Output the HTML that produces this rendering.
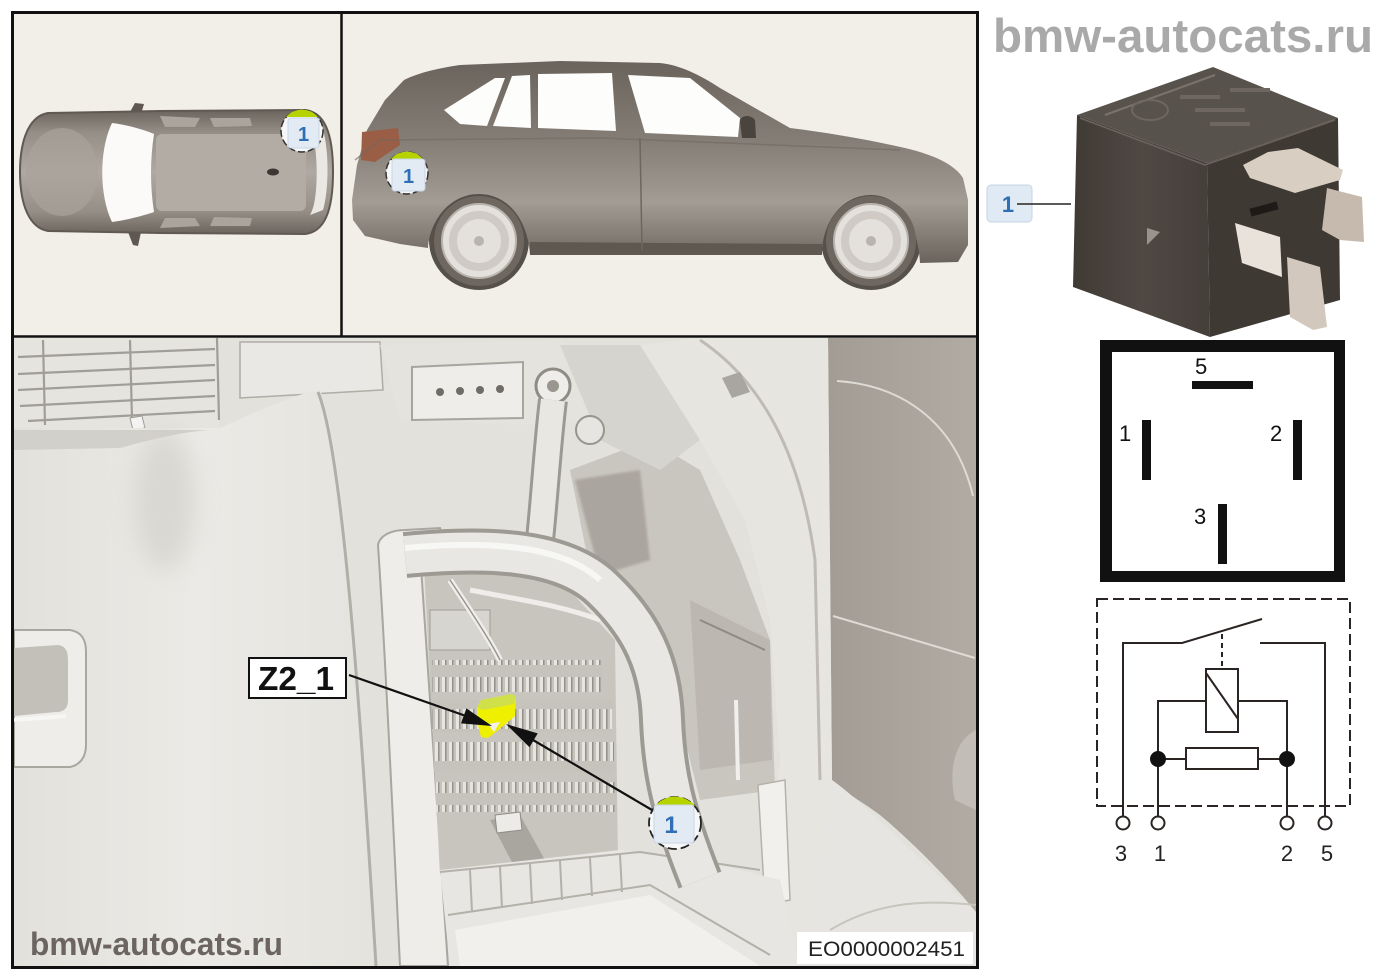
<!DOCTYPE html>
<html><head><meta charset="utf-8">
<style>
html,body{margin:0;padding:0;background:#fff;}
svg{display:block}
text{font-family:"Liberation Sans",Arial,sans-serif}
</style></head><body>
<svg width="1400" height="980" viewBox="0 0 1400 980" xmlns="http://www.w3.org/2000/svg">
<defs>
  <linearGradient id="carTop" x1="0" y1="0" x2="0" y2="1">
    <stop offset="0" stop-color="#6b645d"/><stop offset="0.18" stop-color="#958e86"/>
    <stop offset="0.5" stop-color="#b0a9a1"/><stop offset="0.82" stop-color="#958e86"/>
    <stop offset="1" stop-color="#6b645d"/>
  </linearGradient>
  <linearGradient id="carSide" x1="0" y1="0" x2="0" y2="1">
    <stop offset="0" stop-color="#6a635c"/><stop offset="0.4" stop-color="#857e76"/>
    <stop offset="0.7" stop-color="#a39c94"/><stop offset="1" stop-color="#6a635c"/>
  </linearGradient>
  <linearGradient id="relayFront" x1="0" y1="0" x2="1" y2="0">
    <stop offset="0" stop-color="#403a35"/><stop offset="0.5" stop-color="#4f4843"/><stop offset="1" stop-color="#453f3a"/>
  </linearGradient>
  <linearGradient id="trim" x1="0" y1="0" x2="1" y2="0">
    <stop offset="0" stop-color="#e2e1dc"/><stop offset="0.5" stop-color="#ebeae6"/><stop offset="1" stop-color="#e4e3de"/>
  </linearGradient>
  <linearGradient id="darkPanel" x1="0" y1="0" x2="1" y2="0">
    <stop offset="0" stop-color="#a29c94"/><stop offset="1" stop-color="#b1aba3"/>
  </linearGradient>
  <filter id="soft" x="-50%" y="-50%" width="200%" height="200%"><feGaussianBlur stdDeviation="12"/></filter>
  <filter id="soft2" x="-20%" y="-20%" width="140%" height="140%"><feGaussianBlur stdDeviation="1.2"/></filter>
  <clipPath id="bottomClip"><rect x="14" y="338" width="962" height="628"/></clipPath>
  <pattern id="fuse" width="7" height="32" patternUnits="userSpaceOnUse">
    <rect width="7" height="32" fill="#c6c3bc"/>
    <rect x="1" y="5" width="3" height="20" fill="#e9e8e4"/>
    <rect x="4" y="5" width="1.5" height="20" fill="#8d8983"/>
  </pattern>
</defs>

<rect width="1400" height="980" fill="#ffffff"/>

<!-- ============ TOP PANELS ============ -->
<rect x="14" y="14" width="327" height="322" fill="#f2eee8"/>
<rect x="342" y="14" width="634" height="322" fill="#f2eee8"/>

<!-- top view car -->
<g>
  <path d="M130,112 L135,103 L144,104 L141,114 Z" fill="#5f5851"/>
  <path d="M128,232 L141,232 L138,246 L133,245 Z" fill="#5f5851"/>
  <path d="M48,113 C30,116 20,138 20,172 C20,206 30,228 48,231 L160,233 L305,234 C324,232 333,212 333,172 C333,132 324,112 305,110 L160,111 Z" fill="url(#carTop)" stroke="#605952" stroke-width="2"/>
  <ellipse cx="62" cy="172" rx="36" ry="44" fill="#aaa39b" opacity="0.7"/>
  <path d="M112,123 C128,125 145,130 154,134 C150,160 150,186 154,212 C145,215 128,220 112,222 C99,195 99,150 112,123 Z" fill="#fbfaf8"/>
  <rect x="156" y="134" width="150" height="77" rx="6" fill="#b3aca4"/>
  <path d="M160,116 L200,118 L195,127 L165,127 Z M210,118 L250,118 L252,126 L214,127 Z" fill="#aba49c"/>
  <path d="M160,228 L200,226 L195,218 L165,218 Z M210,226 L250,226 L252,218 L214,217 Z" fill="#aba49c"/>
  <path d="M310,128 C318,140 320,200 310,215 L323,210 C329,190 329,150 323,130 Z" fill="#ebe8e3"/>
  <ellipse cx="273" cy="172" rx="6" ry="3.5" fill="#3c3732"/>
</g>

<!-- side view car -->
<g>
  <circle cx="479" cy="240" r="50" fill="#55504a"/>
  <circle cx="871" cy="240" r="50" fill="#55504a"/>
  <path d="M404,80 C420,72 440,68 460,65 L560,61 L660,63 C680,65 700,75 720,88 L790,128 C830,133 870,140 905,148 C935,155 955,165 963,178 L968,200 L968,245 L958,262 L920,263 C918,225 900,195 871,195 C842,195 822,222 822,255 L530,255 C528,220 508,194 479,194 C450,194 430,220 428,248 L400,244 L365,236 L353,220 L352,200 L357,165 L367,130 L385,100 Z" fill="url(#carSide)"/>
  <path d="M530,242 L822,244 L822,255 L530,255 Z" fill="#5f5851"/>
  <path d="M444,110 L495,78 L505,78 L487,126 L460,124 Z" fill="#fdfdfc"/>
  <path d="M493,126 L512,76 L530,75 L531,128 Z" fill="#fdfdfc"/>
  <path d="M538,74 L612,73 L616,131 L538,128 Z" fill="#fdfdfc"/>
  <path d="M628,75 L690,78 L740,118 L738,137 L645,133 Z" fill="#fdfdfc"/>
  <path d="M740,122 C740,115 750,114 755,120 L756,138 L742,138 Z" fill="#4a443e"/>
  <path d="M362,132 L398,128 L400,145 L375,162 L361,160 Z" fill="#9a5e47"/>
  <path d="M640,138 L642,250" stroke="#6d665f" stroke-width="1.5"/>
  <path d="M355,160 L380,140 L600,138 L900,150" stroke="#6f6861" stroke-width="1.5" fill="none" opacity="0.6"/>
  <!-- wheels -->
  <circle cx="479" cy="241" r="45" fill="#6e6760"/>
  <circle cx="479" cy="241" r="37" fill="#e4e1dc" stroke="#b8b3ac" stroke-width="2"/>
  <circle cx="479" cy="241" r="26" fill="none" stroke="#cfcac3" stroke-width="8"/>
  <circle cx="479" cy="241" r="5" fill="#b9b4ad"/>
  <circle cx="871" cy="241" r="45" fill="#6e6760"/>
  <circle cx="871" cy="241" r="37" fill="#e4e1dc" stroke="#b8b3ac" stroke-width="2"/>
  <circle cx="871" cy="241" r="26" fill="none" stroke="#cfcac3" stroke-width="8"/>
  <circle cx="871" cy="241" r="5" fill="#b9b4ad"/>
</g>

<!-- ============ BOTTOM PANEL ============ -->
<g clip-path="url(#bottomClip)">
  <rect x="14" y="338" width="962" height="628" fill="#e2e1dc"/>
  <!-- right dark panel -->
  <path d="M828,338 L976,338 L976,912 C950,880 910,840 880,815 C860,800 840,790 832,780 Z" fill="url(#darkPanel)"/>
  <path d="M837,381 C900,385 955,420 973,496" stroke="#dedad4" stroke-width="2" fill="none"/>
  <path d="M833,616 L975,658" stroke="#dedad4" stroke-width="2" fill="none"/>
  <path d="M976,730 C955,740 948,770 955,800 L976,810 Z" fill="#c2bdb6"/>
  <!-- lower right floor -->
  <path d="M832,780 C860,800 900,840 976,912 L976,966 L800,966 L790,900 Z" fill="#e6e5e1"/>
  <path d="M830,930 C880,900 930,900 976,905" stroke="#c8c4be" stroke-width="2" fill="none"/>

  <!-- B-pillar light trim -->
  <path d="M640,345 L700,338 L828,338 L832,780 L810,900 L790,966 L760,966 L770,880 L780,760 L770,620 L745,520 L700,440 L660,400 Z" fill="#e6e5e0"/>
  <path d="M700,340 C760,380 800,450 815,560 L820,780" stroke="#bfbbb4" stroke-width="3" fill="none"/>
  <path d="M722,378 L740,372 L750,392 L732,398 Z" fill="#a9a59f"/>
  <!-- middle shadow region -->
  <path d="M570,470 L650,440 L700,470 L740,560 L770,640 L775,790 L700,800 L680,720 L640,620 L590,570 Z" fill="#c9c6bf"/>
  <path d="M575,480 L640,470 L650,560 L600,575 Z" fill="#aaa59e" filter="url(#soft2)"/>
  <path d="M690,600 L770,640 L772,760 L700,770 Z" fill="#bcb8b1"/>
  <path d="M700,620 L765,650" stroke="#8e8a84" stroke-width="2"/>
  <path d="M736,700 L738,780" stroke="#f0efec" stroke-width="4"/>
  <!-- seat belt strip -->
  <path d="M758,785 L785,780 L790,900 L765,905 Z" fill="#f1f0ed" stroke="#b5b1ab" stroke-width="1.5"/>

  <!-- top structures -->
  <rect x="14" y="338" width="205" height="90" fill="#e5e4df"/>
  <g stroke="#a19d97" stroke-width="2.2" fill="none">
    <path d="M18,357 L215,349"/><path d="M18,374 L215,365"/><path d="M18,390 L215,380"/>
    <path d="M20,406 L215,396"/><path d="M28,421 L215,411"/>
    <path d="M43,340 L45,425"/><path d="M130,340 L132,420"/><path d="M217,338 L219,420"/>
  </g>
  <path d="M130,418 L142,416 L145,428 L133,430 Z" fill="#f4f4f2" stroke="#a19d97"/>
  <path d="M240,342 L380,342 L383,390 L240,398 Z" fill="#e9e8e4" stroke="#b0aca6" stroke-width="1.5"/>
  <path d="M380,345 L560,340 L600,360 L590,420 L520,425 L400,420 Z" fill="#e4e3de"/>
  <path d="M412,367 L523,362 L523,418 L412,420 Z" fill="#eeede9" stroke="#a8a49e" stroke-width="2"/>
  <g fill="#6f6b66"><circle cx="440" cy="392" r="4"/><circle cx="460" cy="391" r="4"/><circle cx="480" cy="390" r="4"/><circle cx="500" cy="389" r="4"/></g>
  <circle cx="553" cy="386" r="17" fill="#eeede9" stroke="#8f8b85" stroke-width="3"/>
  <circle cx="553" cy="386" r="6" fill="#9a968f"/>
  <path d="M560,345 L640,345 L700,440 L660,470 L600,440 Z" fill="#d6d4ce"/>
  <circle cx="590" cy="430" r="14" fill="#e6e5e1" stroke="#98948e" stroke-width="2"/>

  <!-- big left trim -->
  <path d="M14,428 L220,428 C260,410 300,392 320,390 C345,450 362,700 378,966 L14,966 Z" fill="url(#trim)"/>
  <path d="M14,430 L210,430 C180,432 150,440 120,448 L14,450 Z" fill="#d2d0ca"/>
  <ellipse cx="165" cy="500" rx="30" ry="70" fill="#cfccc6" opacity="0.6" filter="url(#soft)"/>
  <path d="M318,392 C342,450 360,700 376,966" stroke="#b2aea8" stroke-width="3" fill="none"/>
  <!-- handle -->
  <path d="M14,630 L70,630 C82,632 86,640 86,652 L86,745 C86,757 80,765 70,767 L14,767 Z" fill="#eeedea" stroke="#aaa6a0" stroke-width="2"/>
  <path d="M14,648 L58,645 C66,646 68,652 68,660 L68,700 C68,708 64,712 56,712 L14,716 Z" fill="#c3c0ba"/>
  <path d="M14,720 L66,716" stroke="#f6f6f4" stroke-width="4"/>

  <!-- frame left of fuse box -->
  <path d="M378,545 C380,535 392,530 405,530 L440,528 L445,548 L420,552 L448,966 L400,966 C392,800 385,650 378,545 Z" fill="#eeede9" stroke="#a9a6a0" stroke-width="2"/>

  <!-- fuse box interior -->
  <path d="M424,565 L470,560 L565,585 L615,640 L618,860 L440,875 Z" fill="#c8c5be"/>
  <rect x="432" y="660" width="170" height="32" fill="url(#fuse)" opacity="0.9"/>
  <rect x="432" y="700" width="180" height="32" fill="url(#fuse)" opacity="0.9"/>
  <rect x="434" y="742" width="180" height="30" fill="url(#fuse)" opacity="0.9"/>
  <rect x="436" y="782" width="180" height="30" fill="url(#fuse)" opacity="0.85"/>
  <rect x="430" y="610" width="60" height="40" fill="#d7d5cf" stroke="#a19d97"/>
  <path d="M450,580 C470,610 490,640 500,660" stroke="#f0efec" stroke-width="6" fill="none"/>
  <path d="M450,580 C470,610 490,640 500,660" stroke="#9a968f" stroke-width="1.5" fill="none"/>
  <path d="M470,590 C520,600 560,605 600,620" stroke="#eeede9" stroke-width="5" fill="none"/>
  <path d="M490,820 L520,815 L545,860 L515,868 Z" fill="#a9a59f"/>
  <path d="M495,815 L520,812 L522,830 L497,833 Z" fill="#ecebe7" stroke="#8f8b85"/>

  <!-- tray -->
  <path d="M440,870 L620,850 L700,860 L780,880 L800,966 L450,966 Z" fill="#e7e6e2"/>
  <path d="M455,930 L650,895 L760,966 L460,966 Z" fill="#f1f0ed"/>
  <g stroke="#b4b0aa" stroke-width="2" fill="none">
    <path d="M440,872 L640,852 L760,870"/>
    <path d="M448,915 L650,885 L770,955"/>
    <path d="M470,870 L472,912"/><path d="M500,867 L502,908"/><path d="M530,864 L532,904"/>
    <path d="M560,861 L562,900"/><path d="M590,858 L592,896"/><path d="M620,855 L622,892"/>
  </g>

  <!-- vertical harness tube -->
  <path d="M553,400 C548,440 545,490 540,540" stroke="#9c9892" stroke-width="30" fill="none"/>
  <path d="M553,400 C548,440 545,490 540,540" stroke="#e8e7e2" stroke-width="24" fill="none"/>
  <!-- main tube -->
  <path d="M405,555 C480,548 560,548 602,588 C642,626 660,665 662,720 C664,770 672,810 700,880" stroke="#9d9993" stroke-width="46" fill="none"/>
  <path d="M405,555 C480,548 560,548 602,588 C642,626 660,665 662,720 C664,770 672,810 700,880" stroke="#e8e7e3" stroke-width="38" fill="none"/>
  <path d="M405,548 C480,541 560,543 600,580" stroke="#f7f7f5" stroke-width="6" fill="none"/>

  <!-- yellow relay -->
  <path d="M477,707 L481,700 L512,694 L516,697 L515,716 L503,726 L497,731 L488,738 L481,737 L478,725 Z" fill="#eef000"/>
  <path d="M477,707 L481,700 L512,694 L516,697 L514,704 L483,710 Z" fill="#cfe04a"/>
  <path d="M488,724 L500,722 L494,732 Z" fill="#f4f1ea"/>
</g>

<!-- arrows -->
<g stroke="#111" stroke-width="2.2" fill="#111">
  <line x1="349" y1="675" x2="466" y2="716"/>
  <polygon points="492,726 466.4,708.4 461.0,723.4" stroke="none"/>
  <line x1="652" y1="810" x2="533" y2="740"/>
  <polygon points="506,724 537.7,733.4 529.5,747.2" stroke="none"/>
</g>

<!-- markers -->
<g>
  <circle cx="302" cy="131" r="21" fill="#f6f7f9" stroke="#333" stroke-width="1.5" stroke-dasharray="7 3"/>
  <path d="M286,117 A21,21 0 0 1 318,117 Z" fill="#b6d300"/>
  <rect x="288" y="118" width="31" height="30" rx="3" fill="#e2ebf4" stroke="#cad6e3"/>
  <text x="303.5" y="141" font-size="20" font-weight="bold" fill="#2f6fb5" text-anchor="middle">1</text>

  <circle cx="407" cy="173" r="21" fill="#f6f7f9" stroke="#333" stroke-width="1.5" stroke-dasharray="7 3"/>
  <path d="M391,159 A21,21 0 0 1 423,159 Z" fill="#b6d300"/>
  <rect x="392" y="159" width="33" height="32" rx="3" fill="#e2ebf4" stroke="#cad6e3"/>
  <text x="408.5" y="183" font-size="20" font-weight="bold" fill="#2f6fb5" text-anchor="middle">1</text>

  <circle cx="675" cy="823" r="26" fill="#f6f7f9" stroke="#222" stroke-width="1.8" stroke-dasharray="9 4"/>
  <path d="M655,806 A26,26 0 0 1 695,806 Z" fill="#b6d300"/>
  <rect x="654" y="805" width="40" height="38" rx="3" fill="#e2ebf4" stroke="#cad6e3"/>
  <text x="671" y="833" font-size="24" font-weight="bold" fill="#2f6fb5" text-anchor="middle">1</text>
</g>

<!-- Z2_1 label -->
<rect x="249" y="658" width="97" height="40" fill="#fff" stroke="#111" stroke-width="2"/>
<text x="258" y="690" font-size="33" font-weight="bold" fill="#111" textLength="76" lengthAdjust="spacingAndGlyphs">Z2_1</text>

<!-- bottom watermark + code -->
<text x="30" y="955" font-size="32" font-weight="bold" fill="#6b6460" textLength="253" lengthAdjust="spacingAndGlyphs">bmw-autocats.ru</text>
<rect x="797" y="932" width="176" height="32" fill="#fff"/>
<text x="808" y="956" font-size="21" fill="#222" textLength="157" lengthAdjust="spacingAndGlyphs">EO0000002451</text>

<!-- frame -->
<rect x="12.5" y="12.5" width="965" height="955" fill="none" stroke="#111" stroke-width="3"/>
<line x1="341.5" y1="12" x2="341.5" y2="337" stroke="#111" stroke-width="2.5"/>
<line x1="12" y1="336.5" x2="978" y2="336.5" stroke="#111" stroke-width="2.5"/>

<!-- ============ RIGHT COLUMN ============ -->
<text x="993" y="52" font-size="47" font-weight="bold" fill="#a9a9a9" textLength="380" lengthAdjust="spacingAndGlyphs">bmw-autocats.ru</text>

<!-- relay photo -->
<g>
  <path d="M1077,115 L1207,163 L1210,337 L1073,287 Z" fill="url(#relayFront)"/>
  <path d="M1077,115 L1213,67 L1338,118 L1207,163 Z" fill="#58524c"/>
  <path d="M1207,163 L1338,118 L1340,300 L1210,337 Z" fill="#3f3934"/>
  <path d="M1105,115 L1215,75" stroke="#7a736c" stroke-width="2"/>
  <path d="M1080,118 L1205,165 L1335,120" stroke="#6b645e" stroke-width="1.5" fill="none"/>
  <ellipse cx="1150" cy="110" rx="18" ry="10" fill="none" stroke="#6e6761" stroke-width="2"/>
  <g fill="#6e6761"><rect x="1180" y="95" width="40" height="4"/><rect x="1195" y="108" width="50" height="4"/><rect x="1210" y="122" width="40" height="4"/><rect x="1230" y="88" width="40" height="4"/></g>
  <path d="M1147,228 L1160,232 L1147,245 Z" fill="#9a938c"/>
  <path d="M1327,188 L1362,197 L1364,242 L1340,240 L1322,230 Z" fill="#c6baae"/>
  <path d="M1243,165 L1268,152 L1298,148 L1343,170 L1340,180 L1295,193 L1250,178 Z" fill="#d8cec2"/>
  <path d="M1235,223 L1280,237 L1282,277 L1242,263 Z" fill="#e8e2da"/>
  <path d="M1287,257 L1320,267 L1327,327 L1313,330 L1290,317 Z" fill="#d2c8bd"/>
  <rect x="1250" y="205" width="28" height="8" fill="#1e1a17" transform="rotate(-15 1264 209)"/>
</g>
<rect x="987" y="185" width="45" height="37" rx="4" fill="#e0eaf4" stroke="#c5d3e2"/>
<text x="1008" y="212" font-size="22" font-weight="bold" fill="#2f6fb5" text-anchor="middle">1</text>
<line x1="1017" y1="204" x2="1071" y2="204" stroke="#222" stroke-width="1.5"/>

<!-- pin diagram -->
<rect x="1100" y="340" width="245" height="242" fill="#111"/>
<rect x="1112" y="352" width="222" height="219" fill="#fff"/>
<rect x="1192" y="381" width="61" height="8" fill="#111"/>
<rect x="1142" y="420" width="9" height="60" fill="#111"/>
<rect x="1293" y="420" width="9" height="60" fill="#111"/>
<rect x="1218" y="504" width="9" height="60" fill="#111"/>
<g font-size="22" fill="#111">
  <text x="1195" y="374">5</text>
  <text x="1119" y="441">1</text>
  <text x="1270" y="441">2</text>
  <text x="1194" y="524">3</text>
</g>

<!-- circuit diagram -->
<g stroke="#2a2522" stroke-width="2" fill="none">
  <rect x="1097" y="599" width="253" height="207" stroke-dasharray="11 5"/>
  <polyline points="1123,817 1123,643 1182,643 1262,619"/>
  <line x1="1222" y1="634" x2="1222" y2="669" stroke-dasharray="5 4"/>
  <polyline points="1260,643 1325,643 1325,817"/>
  <rect x="1206" y="669" width="32" height="63" fill="#fff"/>
  <line x1="1206" y1="673" x2="1238" y2="719"/>
  <polyline points="1206,701 1158,701 1158,817"/>
  <polyline points="1238,701 1287,701 1287,817"/>
  <line x1="1158" y1="759" x2="1186" y2="759"/>
  <line x1="1258" y1="759" x2="1287" y2="759"/>
  <rect x="1186" y="748" width="72" height="21" fill="#fff"/>
  <circle cx="1123" cy="823" r="6.5" fill="#fff"/>
  <circle cx="1158" cy="823" r="6.5" fill="#fff"/>
  <circle cx="1287" cy="823" r="6.5" fill="#fff"/>
  <circle cx="1325" cy="823" r="6.5" fill="#fff"/>
</g>
<circle cx="1158" cy="759" r="8" fill="#111"/>
<circle cx="1287" cy="759" r="8" fill="#111"/>
<g font-size="22" fill="#222" text-anchor="middle">
  <text x="1121" y="861">3</text>
  <text x="1160" y="861">1</text>
  <text x="1287" y="861">2</text>
  <text x="1327" y="861">5</text>
</g>
</svg>
</body></html>
